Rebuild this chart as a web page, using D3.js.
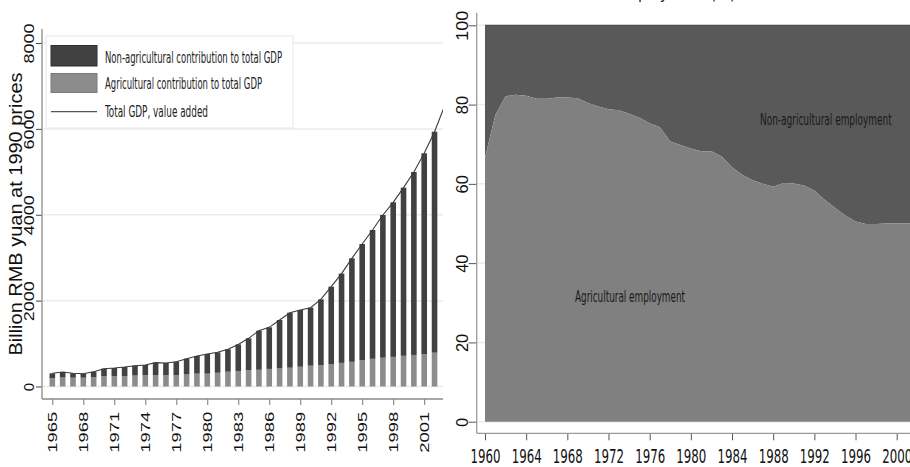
<!DOCTYPE html>
<html>
<head>
<meta charset="utf-8">
<script src="https://cdn.jsdelivr.net/npm/d3@7"></script>
<style>
  body { margin: 0; background: #fff; }
  svg { display: block; }
</style>
</head>
<body>
<script>
// ---- data ----
// left: GDP at 1990 prices (billion RMB yuan)
const gdpYears = [1965,1966,1967,1968,1969,1970,1971,1972,1973,1974,1975,1976,1977,1978,1979,1980,1981,1982,1983,1984,1985,1986,1987,1988,1989,1990,1991,1992,1993,1994,1995,1996,1997,1998,1999,2000,2001,2002]
const totalGdp = [307,338,307,298,345,415,431,454,485,501,555,547,578,648,710,757,796,866,980,1122,1300,1378,1549,1719,1782,1836,2030,2325,2630,2985,3319,3645,3994,4290,4631,4996,5431,5934]
const agriGdp  = [191,210,205,205,215,240,245,245,255,262,268,262,265,285,300,300,320,345,362,380,390,410,420,438,460,485,500,524,550,575,610,645,670,690,715,735,757,788]
// total GDP line runs one year further than the bars
const lineYears = gdpYears.concat([2003])
const lineTotal = totalGdp.concat([6550])
const gdpXTicks = [1965,1968,1971,1974,1977,1980,1983,1986,1989,1992,1995,1998,2001]
const gdpYTicks = [0,2000,4000,6000,8000]
const legendLabels = ["Non-agricultural contribution to total GDP", "Agricultural contribution to total GDP", "Total GDP, value added"]

// right: share of employment (%)
const empYears = [1960,1961,1962,1963,1964,1965,1966,1967,1968,1969,1970,1971,1972,1973,1974,1975,1976,1977,1978,1979,1980,1981,1982,1983,1984,1985,1986,1987,1988,1989,1990,1991,1992,1993,1994,1995,1996,1997,1998,1999,2000,2001,2002]
const agriEmp  = [66.6,77.4,82.1,82.5,82.2,81.5,81.5,81.8,81.8,81.6,80.4,79.5,78.8,78.6,77.7,76.7,75.3,74.3,70.7,69.8,68.9,68.2,68.2,66.9,64.2,62.3,60.9,60.0,59.3,60.2,60.1,59.6,58.3,56.0,54.0,52.0,50.5,49.9,49.9,50.0,50.0,50.0,50.0]
const empXTicks = [1960,1964,1968,1972,1976,1980,1984,1988,1992,1996,2000]
const empYTicks = [0,20,40,60,80,100]

const narrow = '"Liberation Sans Narrow", "Arial Narrow", "DejaVu Sans Condensed", sans-serif'
const regular = '"Liberation Sans", Arial, sans-serif'

const svg = d3.select("body").append("svg")
    .attr("width", 910)
    .attr("height", 467)

// ================= left chart =================
const xL = d3.scaleLinear().domain([1964, 2002.82]).range([42, 443])
const yL = d3.scaleLinear().domain([0, 8000]).range([386.5, 43])

svg.append("defs").append("clipPath").attr("id", "clipL")
    .append("rect").attr("x", 42).attr("y", 20).attr("width", 401).attr("height", 380)

const left = svg.append("g")

// gridlines
left.selectAll(".gridL")
    .data(gdpYTicks)
    .enter()
    .append("line")
    .attr("x1", 42).attr("x2", 443)
    .attr("y1", d => yL(d)).attr("y2", d => yL(d))
    .attr("stroke", "#ebebeb")
    .attr("stroke-width", 1.5)

const barW = 5.6
// agricultural part
left.selectAll(".agBar")
    .data(gdpYears)
    .enter()
    .append("rect")
    .attr("x", d => xL(d) - barW / 2)
    .attr("y", (d, i) => yL(agriGdp[i]))
    .attr("width", barW)
    .attr("height", (d, i) => yL(0) - yL(agriGdp[i]))
    .attr("fill", "#8c8c8c")

// non-agricultural part
left.selectAll(".nonAgBar")
    .data(gdpYears)
    .enter()
    .append("rect")
    .attr("x", d => xL(d) - barW / 2)
    .attr("y", (d, i) => yL(totalGdp[i]))
    .attr("width", barW)
    .attr("height", (d, i) => yL(agriGdp[i]) - yL(totalGdp[i]))
    .attr("fill", "#414141")

// total line
const totalLine = d3.line()
    .x(d => xL(d[0]))
    .y(d => yL(d[1]))

left.append("path")
    .datum(lineYears.map((y, i) => [y, lineTotal[i]]))
    .attr("d", totalLine)
    .attr("fill", "none")
    .attr("stroke", "#3a3a3a")
    .attr("stroke-width", 1.1)
    .attr("clip-path", "url(#clipL)")

// axes
const yAxisL = left.append("g")
    .attr("transform", "translate(42,0)")
    .call(d3.axisLeft(yL).tickValues(gdpYTicks).tickSize(6).tickFormat(d3.format("d")))
yAxisL.select(".domain").remove()
yAxisL.selectAll(".tick line").attr("stroke", "#444")
yAxisL.selectAll("text")
    .attr("transform", "rotate(-90)")
    .attr("x", 0).attr("y", -7.7).attr("dy", 0)
    .attr("text-anchor", "middle")
    .attr("textLength", d => String(d).length > 1 ? 40 : null)
    .attr("lengthAdjust", "spacingAndGlyphs")
    .style("font-family", regular)
    .style("font-size", "15px")
    .style("fill", "#111")

const xAxisL = left.append("g")
    .attr("transform", "translate(0,399)")
    .call(d3.axisBottom(xL).tickValues(gdpXTicks).tickSize(6).tickFormat(d3.format("d")))
xAxisL.select(".domain").remove()
xAxisL.selectAll(".tick line").attr("stroke", "#777")
xAxisL.selectAll("text")
    .attr("transform", "rotate(-90)")
    .attr("x", -12.7).attr("y", 4.4).attr("dy", 0)
    .attr("text-anchor", "end")
    .attr("textLength", 41)
    .attr("lengthAdjust", "spacingAndGlyphs")
    .style("font-family", regular)
    .style("font-size", "13px")
    .style("fill", "#111")

// axis lines
left.append("line")
    .attr("x1", 42).attr("x2", 42).attr("y1", 29).attr("y2", 399)
    .attr("stroke", "#8a8a8a").attr("stroke-width", 1.3)
left.append("line")
    .attr("x1", 42).attr("x2", 443).attr("y1", 399).attr("y2", 399)
    .attr("stroke", "#8a8a8a").attr("stroke-width", 1.3)

// y title
left.append("text")
    .attr("transform", "translate(22,214) rotate(-90)")
    .attr("text-anchor", "middle")
    .attr("textLength", 283)
    .attr("lengthAdjust", "spacingAndGlyphs")
    .style("font-family", regular)
    .style("font-size", "17.5px")
    .style("fill", "#111")
    .text("Billion RMB yuan at 1990 prices")

// legend
const legend = left.append("g")
legend.append("rect")
    .attr("x", 46).attr("y", 36).attr("width", 247).attr("height", 92)
    .attr("fill", "#fff").attr("stroke", "#e6e6e6")
legend.append("rect")
    .attr("x", 51).attr("y", 45.5).attr("width", 46).attr("height", 20.5)
    .attr("fill", "#414141").attr("stroke", "#2e2e2e")
legend.append("rect")
    .attr("x", 51).attr("y", 73.5).attr("width", 46).attr("height", 19)
    .attr("fill", "#8c8c8c").attr("stroke", "#7a7a7a")
legend.append("line")
    .attr("x1", 51).attr("x2", 97).attr("y1", 111.7).attr("y2", 111.7)
    .attr("stroke", "#555").attr("stroke-width", 1.2)
const legendY = [62.5, 88.5, 117]
const legendLen = [177, 157, 103]
legend.selectAll(".legText")
    .data(legendLabels)
    .enter()
    .append("text")
    .attr("x", 105)
    .attr("y", (d, i) => legendY[i])
    .attr("textLength", (d, i) => legendLen[i])
    .attr("lengthAdjust", "spacingAndGlyphs")
    .style("font-family", narrow)
    .style("font-size", "16px")
    .style("fill", "#222")
    .text(d => d)

// ================= right chart =================
const xR = d3.scaleLinear().domain([1960, 2000]).range([485, 896.7])
const yR = d3.scaleLinear().domain([0, 100]).range([421.7, 25.3])

const right = svg.append("g")

right.selectAll(".gridR")
    .data(empYTicks)
    .enter()
    .append("line")
    .attr("x1", 477).attr("x2", 910)
    .attr("y1", d => yR(d)).attr("y2", d => yR(d))
    .attr("stroke", "#ececec")
    .attr("stroke-width", 1.5)

const empData = empYears.map((y, i) => [y, agriEmp[i]])

const nonAgArea = d3.area()
    .x(d => xR(d[0]))
    .y0(d => yR(d[1]))
    .y1(yR(100))
const agArea = d3.area()
    .x(d => xR(d[0]))
    .y0(yR(0))
    .y1(d => yR(d[1]))

right.append("path")
    .datum(empData)
    .attr("d", nonAgArea)
    .attr("fill", "#595959")
right.append("path")
    .datum(empData)
    .attr("d", agArea)
    .attr("fill", "#808080")
right.append("line")
    .attr("x1", xR(1960)).attr("x2", 910)
    .attr("y1", yR(100)).attr("y2", yR(100))
    .attr("stroke", "#444").attr("stroke-width", 1)

// area labels
right.append("text")
    .attr("x", 760).attr("y", 125)
    .attr("textLength", 131.7)
    .attr("lengthAdjust", "spacingAndGlyphs")
    .style("font-family", narrow)
    .style("font-size", "16px")
    .style("fill", "#1a1a1a")
    .text("Non-agricultural employment")
right.append("text")
    .attr("x", 575).attr("y", 302.3)
    .attr("textLength", 110)
    .attr("lengthAdjust", "spacingAndGlyphs")
    .style("font-family", narrow)
    .style("font-size", "16px")
    .style("fill", "#1a1a1a")
    .text("Agricultural employment")

// axes
const yAxisR = right.append("g")
    .attr("transform", "translate(476.7,0)")
    .call(d3.axisLeft(yR).tickValues(empYTicks).tickSize(8))
yAxisR.select(".domain").remove()
yAxisR.selectAll(".tick line").attr("stroke", "#555")
yAxisR.selectAll("text")
    .attr("transform", "rotate(-90)")
    .attr("x", 0).attr("y", -8.4).attr("dy", 0)
    .attr("text-anchor", "middle")
    .attr("textLength", d => d >= 100 ? 30 : (d > 0 ? 18.3 : null))
    .attr("lengthAdjust", "spacingAndGlyphs")
    .style("font-family", regular)
    .style("font-size", "16px")
    .style("fill", "#111")

const xAxisR = right.append("g")
    .attr("transform", "translate(0,433.3)")
    .call(d3.axisBottom(xR).tickValues(empXTicks).tickSize(7).tickFormat(d3.format("d")))
xAxisR.select(".domain").remove()
xAxisR.selectAll(".tick line").attr("stroke", "#555")
xAxisR.selectAll("text")
    .attr("y", 30).attr("dy", 0)
    .attr("textLength", 30)
    .attr("lengthAdjust", "spacingAndGlyphs")
    .style("font-family", narrow)
    .style("font-size", "20px")
    .style("fill", "#111")

right.append("line")
    .attr("x1", 476.7).attr("x2", 476.7).attr("y1", 13).attr("y2", 433.3)
    .attr("stroke", "#9a9a9a").attr("stroke-width", 1.3)
right.append("line")
    .attr("x1", 476.7).attr("x2", 910).attr("y1", 433.3).attr("y2", 433.3)
    .attr("stroke", "#9a9a9a").attr("stroke-width", 1.3)

// title, cut off at the top edge: only descenders peek in
right.append("text")
    .attr("x", 643).attr("y", -1.5)
    .attr("text-anchor", "middle")
    .style("font-family", narrow)
    .style("font-size", "16px")
    .style("fill", "#111")
    .text("Share of employment (%)")
</script>
</body>
</html>
